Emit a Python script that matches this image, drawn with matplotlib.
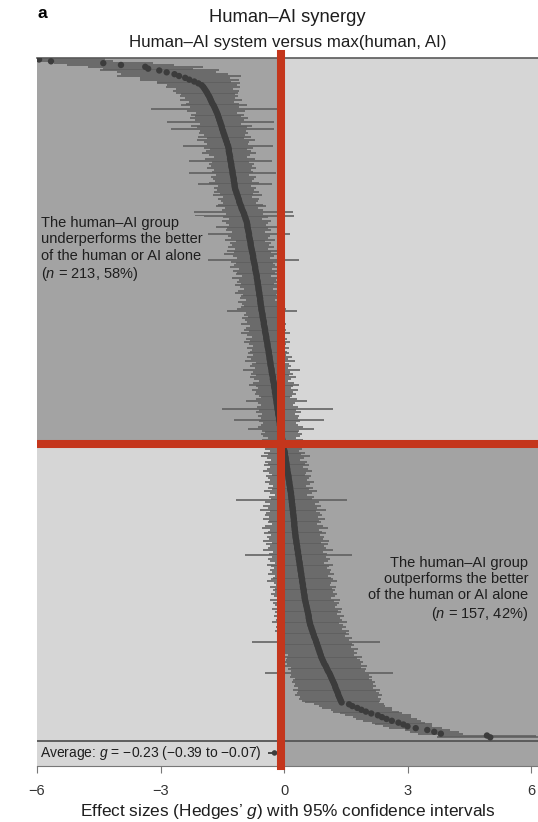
import matplotlib
matplotlib.use("Agg")
import matplotlib.pyplot as plt
from matplotlib.patches import Rectangle
import numpy as np

plt.rcParams['font.family'] = ['Liberation Sans', 'DejaVu Sans']
plt.rcParams['mathtext.fontset'] = 'custom'
plt.rcParams['mathtext.rm'] = 'Liberation Sans'
plt.rcParams['mathtext.it'] = 'Liberation Sans:italic'

# ---------------- data (effect sizes, sorted, and 95% CI half widths) -------------
effects = [
    -5.95, -5.66, -4.39, -3.96, -3.37, -3.30, -3.03, -2.85, -2.66, -2.55,
    -2.40, -2.30, -2.18, -2.08, -2.00, -1.96, -1.93, -1.90, -1.87, -1.85,
    -1.82, -1.80, -1.78, -1.76, -1.74, -1.71, -1.69, -1.67, -1.65, -1.63,
    -1.61, -1.60, -1.58, -1.57, -1.55, -1.54, -1.52, -1.51, -1.50, -1.48,
    -1.47, -1.45, -1.44, -1.42, -1.41, -1.39, -1.38, -1.36, -1.35, -1.34,
    -1.34, -1.33, -1.32, -1.31, -1.31, -1.30, -1.29, -1.28, -1.28, -1.27,
    -1.26, -1.25, -1.25, -1.24, -1.23, -1.22, -1.22, -1.21, -1.20, -1.20,
    -1.19, -1.18, -1.16, -1.15, -1.13, -1.12, -1.10, -1.09, -1.08, -1.06,
    -1.04, -1.03, -1.01, -0.99, -0.97, -0.96, -0.94, -0.93, -0.91, -0.90,
    -0.89, -0.89, -0.88, -0.87, -0.86, -0.85, -0.85, -0.84, -0.83, -0.82,
    -0.81, -0.81, -0.80, -0.79, -0.78, -0.77, -0.76, -0.75, -0.75, -0.74,
    -0.73, -0.72, -0.71, -0.70, -0.70, -0.69, -0.68, -0.67, -0.66, -0.66,
    -0.65, -0.64, -0.64, -0.63, -0.62, -0.62, -0.61, -0.60, -0.60, -0.59,
    -0.58, -0.58, -0.57, -0.57, -0.56, -0.55, -0.55, -0.54, -0.53, -0.52,
    -0.52, -0.51, -0.50, -0.49, -0.49, -0.48, -0.47, -0.46, -0.46, -0.45,
    -0.44, -0.43, -0.43, -0.42, -0.41, -0.40, -0.40, -0.39, -0.38, -0.37,
    -0.37, -0.36, -0.35, -0.35, -0.34, -0.33, -0.33, -0.32, -0.31, -0.30,
    -0.30, -0.29, -0.28, -0.27, -0.27, -0.26, -0.25, -0.24, -0.24, -0.23,
    -0.22, -0.22, -0.21, -0.20, -0.20, -0.19, -0.18, -0.18, -0.17, -0.16,
    -0.16, -0.15, -0.14, -0.14, -0.13, -0.12, -0.12, -0.11, -0.10, -0.10,
    -0.09, -0.08, -0.08, -0.07, -0.06, -0.06, -0.05, -0.04, -0.04, -0.03,
    -0.02, -0.02, -0.01,
    0.01, 0.02, 0.02, 0.03, 0.04, 0.04, 0.05, 0.06, 0.06, 0.07,
    0.08, 0.08, 0.09, 0.10, 0.11, 0.11, 0.12, 0.13, 0.13, 0.14,
    0.15, 0.15, 0.16, 0.17, 0.17, 0.18, 0.18, 0.19,
    0.19, 0.20, 0.20, 0.21, 0.21, 0.22, 0.22, 0.23, 0.23, 0.24,
    0.24, 0.25, 0.25, 0.25, 0.26, 0.26, 0.27, 0.27,
    0.28, 0.28, 0.29, 0.30, 0.30, 0.31, 0.32, 0.32, 0.33, 0.34,
    0.34, 0.35, 0.36, 0.36, 0.37, 0.38, 0.38, 0.39,
    0.40, 0.40, 0.41, 0.42, 0.42, 0.43, 0.44, 0.44, 0.45, 0.46,
    0.46, 0.47, 0.48, 0.48, 0.49, 0.50, 0.50, 0.51,
    0.52, 0.53, 0.54, 0.55, 0.56, 0.57, 0.58, 0.59, 0.60, 0.60,
    0.61, 0.62, 0.63,
    0.64, 0.66, 0.67, 0.69, 0.70, 0.72, 0.73, 0.75, 0.77,
    0.78, 0.80, 0.81, 0.83, 0.84, 0.86, 0.87, 0.89, 0.90, 0.92,
    0.94, 0.96, 0.98, 1.01, 1.03, 1.05, 1.07, 1.10, 1.12,
    1.14, 1.16, 1.18, 1.20, 1.22, 1.24, 1.25, 1.27, 1.29,
    1.31, 1.32, 1.34, 1.36, 1.38, 1.40,
    1.58, 1.66, 1.78, 1.88, 1.99, 2.12, 2.28, 2.38, 2.49, 2.62,
    2.78, 2.90, 3.00, 3.20, 3.48, 3.65, 3.81, 4.93, 5.01,
]

ci_half = [
    1.60, 1.50, 1.20, 1.30, 1.40, 1.10, 1.45, 1.20, 1.30, 1.50,
    1.10, 1.20, 0.90, 1.00, 0.85, 0.90, 0.70, 0.80, 0.75, 0.65,
    0.70, 0.60, 0.75, 0.55, 0.65, 0.80, 0.60, 1.55, 0.70, 0.50,
    0.65, 0.55, 0.70, 0.60, 1.30, 0.50, 0.75, 0.60, 1.25, 0.55,
    0.60, 0.50, 0.65, 0.45, 0.70, 0.55, 0.50, 1.10, 0.60, 0.45,
    0.55, 0.65, 0.50, 0.40, 0.60, 1.00, 0.45, 0.55, 0.50, 0.60,
    0.45, 0.50, 1.05, 0.40, 0.55, 0.50, 0.45, 0.60, 0.90, 0.40,
    0.50, 0.45, 0.55, 0.40, 0.60, 0.35, 0.50, 0.45, 0.40, 0.55,
    0.60, 0.40, 0.50, 1.20, 0.45, 1.20, 0.55, 0.40, 0.60, 0.50,
    0.45, 0.75, 0.50, 0.55, 0.40, 1.00, 0.50, 0.45, 0.60, 0.35,
    0.50, 0.45, 0.55, 0.40, 0.60, 0.45, 0.70, 0.50, 0.40, 1.10,
    0.55, 0.45, 0.50, 0.60, 0.40, 0.55, 0.45, 0.50, 0.35, 0.60,
    0.45, 0.50, 0.40, 0.55, 0.45, 0.35, 0.50, 0.60, 0.40, 0.45,
    0.50, 0.35, 0.55, 0.45, 0.40, 0.50, 0.60, 0.85, 0.40, 0.45,
    0.35, 0.50, 0.45, 0.40, 0.55, 0.35, 0.45, 0.50, 0.40, 0.60,
    0.45, 0.35, 0.50, 0.40, 0.55, 0.45, 0.35, 0.50, 0.40, 0.45,
    0.50, 0.40, 0.55, 0.45, 0.60, 0.35, 0.45, 0.50, 0.40, 0.70,
    0.45, 0.50, 0.40, 0.55, 0.45, 0.35, 0.50, 0.60, 0.45, 0.40,
    0.55, 0.45, 0.50, 0.40, 0.35, 0.50, 0.75, 0.45, 0.40, 0.50,
    1.35, 0.45, 0.55, 0.40, 0.50, 0.45, 1.10, 0.50, 0.40, 0.45,
    0.55, 0.80, 0.45, 0.40, 0.50, 0.45, 0.35, 0.50, 0.40, 0.45,
    0.40, 0.50, 0.45, 0.35, 0.50, 0.40, 0.60, 0.45, 0.35, 0.50,
    0.45, 0.55, 0.40, 0.50, 0.60, 0.45, 0.40, 0.55, 0.50, 0.45,
    0.60, 0.50, 0.40, 0.55, 0.45, 0.65, 0.50, 0.40, 0.55, 0.50,
    1.35, 0.65, 0.55, 0.70, 0.60, 0.80, 0.55, 0.65, 0.70, 0.60,
    0.75, 0.60, 0.65, 0.55, 0.70, 0.80, 0.60, 0.65, 0.75, 0.60,
    0.70, 0.65, 0.80, 0.60, 0.75, 0.65, 0.70, 0.85, 0.60, 0.70,
    1.30, 0.65, 0.75, 0.70, 0.60, 0.80, 0.70, 0.65, 0.75, 0.70,
    0.80, 0.65, 0.70, 0.75, 0.85, 0.70, 0.65, 0.80, 0.70, 0.75,
    0.70, 0.80, 0.75, 0.65, 0.85, 0.70, 0.80, 0.75, 0.70, 0.85,
    0.75, 0.80, 0.70, 0.85, 0.75, 0.80, 0.90, 0.70, 0.80, 0.85,
    0.75, 0.90, 0.80, 0.85, 0.75, 0.90, 0.80, 1.55, 0.85, 0.90,
    0.80, 0.95, 0.85, 0.90, 0.80, 1.00, 0.85, 0.90, 0.95, 0.90,
    1.00, 0.85, 0.95, 0.90, 1.55, 0.95, 1.00, 0.90, 0.95, 1.00,
    0.95, 1.00, 0.90, 1.05, 0.95, 1.00, 1.05, 0.95, 1.00, 0.95,
    0.90, 0.85, 0.80, 0.85, 0.75, 0.80, 0.75, 0.80, 0.70, 0.75,
    0.70, 0.65, 0.70, 0.60, 0.65, 0.55, 0.60, 0.55, 1.20, 1.30,
]

avg_g = -0.23
avg_lo = -0.39
avg_hi = -0.07
n_under, pct_under = 213, 58
n_over, pct_over = 157, 42

xticks = [-6, -3, 0, 3, 6]
xtick_labels = ['\u22126', '\u22123', '0', '3', '6']

title = 'Human\u2013AI synergy'
subtitle = 'Human\u2013AI system versus max(human, AI)'
xlabel = 'Effect sizes (Hedges\u2019 $g$) with 95% confidence intervals'

# ---------------- style ----------------
DARK_BG = '#a3a3a3'
LIGHT_BG = '#d6d6d6'
BAR_C = '#5e5e5e'
DOT_C = '#3c3c3c'
RED = '#c4361c'
TXT = '#1e1e1e'

W, H = 538, 822
fig = plt.figure(figsize=(W / 100, H / 100), dpi=100)
fig.patch.set_facecolor('white')

ax_left, ax_top, ax_bottom = 37, 58, 766
ax = fig.add_axes([ax_left / W, (H - ax_bottom) / H, 1 - ax_left / W, (ax_bottom - ax_top) / H])

n = len(effects)
rows = np.arange(n)
g = np.array(effects)
hw = np.array(ci_half)

row_top = -0.8
row_avg_line = 371.0
row_avg = 377.5
row_bottom = 384.6
split_row = 209.5
x_min, x_max = -6, 6.17

ax.set_xlim(x_min, x_max)
ax.set_ylim(row_bottom, row_top)

# quadrant backgrounds
ax.add_patch(Rectangle((x_min, row_top), 0 - x_min, split_row - row_top, facecolor=DARK_BG, edgecolor='none', zorder=0))
ax.add_patch(Rectangle((0, row_top), x_max, split_row - row_top, facecolor=LIGHT_BG, edgecolor='none', zorder=0))
ax.add_patch(Rectangle((x_min, split_row), 0 - x_min, row_bottom - split_row, facecolor=LIGHT_BG, edgecolor='none', zorder=0))
ax.add_patch(Rectangle((0, split_row), x_max, row_bottom - split_row, facecolor=DARK_BG, edgecolor='none', zorder=0))

# CIs and points
ax.hlines(rows, g - hw, g + hw, color=BAR_C, lw=1.15, zorder=2)
ax.scatter(g, rows, s=21, color=DOT_C, edgecolor='none', zorder=3)

# average row
ax.axhline(row_avg_line, color='#555555', lw=1.3, zorder=2)
ax.hlines([row_avg], [avg_lo], [avg_hi], color=DOT_C, lw=1.3, zorder=3)
ax.scatter([avg_g], [row_avg], s=16, color=DOT_C, edgecolor='none', zorder=3)

bm = '\u2212'
ax.text(-0.53, row_avg,
        'Average: $g$ = ' + f'{avg_g:.2f}'.replace('-', bm) + ' (' + f'{avg_lo:.2f}'.replace('-', bm)
        + ' to ' + f'{avg_hi:.2f}'.replace('-', bm) + ')',
        ha='right', va='center', fontsize=10, color=TXT, zorder=4,
        bbox=dict(facecolor=LIGHT_BG, edgecolor='none', pad=1.0))

# annotations
ax.text(-5.91, 103.5,
        'The human\u2013AI group\nunderperforms the better\nof the human or AI alone\n'
        + f'($n$ = {n_under}, {pct_under}%)',
        ha='left', va='center', fontsize=10.5, color=TXT, linespacing=1.2, zorder=4,
        bbox=dict(facecolor=DARK_BG, edgecolor='none', pad=1.5))
ax.text(5.93, 288.5,
        'The human\u2013AI group\noutperforms the better\nof the human or AI alone\n'
        + f'($n$ = {n_over}, {pct_over}%)',
        ha='right', va='center', fontsize=10.5, color=TXT, linespacing=1.2, zorder=4,
        multialignment='right',
        bbox=dict(facecolor=DARK_BG, edgecolor='none', pad=1.5))

# red cross lines
ax.axvline(-0.07, ymin=0, ymax=1 + 4 / (ax_bottom - ax_top), color=RED, lw=5.8, zorder=5, clip_on=False)
ax.axhline(split_row, color=RED, lw=5.8, zorder=5)

# spines / axis
for s in ['left', 'right']:
    ax.spines[s].set_visible(False)
ax.spines['top'].set_color('#5a5a5a')
ax.spines['top'].set_linewidth(1.2)
ax.spines['bottom'].set_color('#777777')
ax.spines['bottom'].set_linewidth(0.8)
ax.set_yticks([])
ax.set_xticks(xticks)
ax.set_xticklabels(xtick_labels, fontsize=10.5, color='#333333')
ax.tick_params(axis='x', direction='out', length=5, width=0.8, color='#777777', pad=8)

# titles and axis label
cx = (ax_left + W) / 2 / W
fig.text(cx, 1 - 18 / H, title, ha='center', va='center', fontsize=13.2, color=TXT)
fig.text(cx, 1 - 43 / H, subtitle, ha='center', va='center', fontsize=12.2, color=TXT)
fig.text(37 / W, 1 - 13 / H, 'a', ha='left', va='center', fontsize=12.5, fontweight='bold', color='black')
fig.text(cx, 1 - 811 / H, xlabel, ha='center', va='center', fontsize=12.4, color=TXT)

fig.savefig('out.png', dpi=100)
